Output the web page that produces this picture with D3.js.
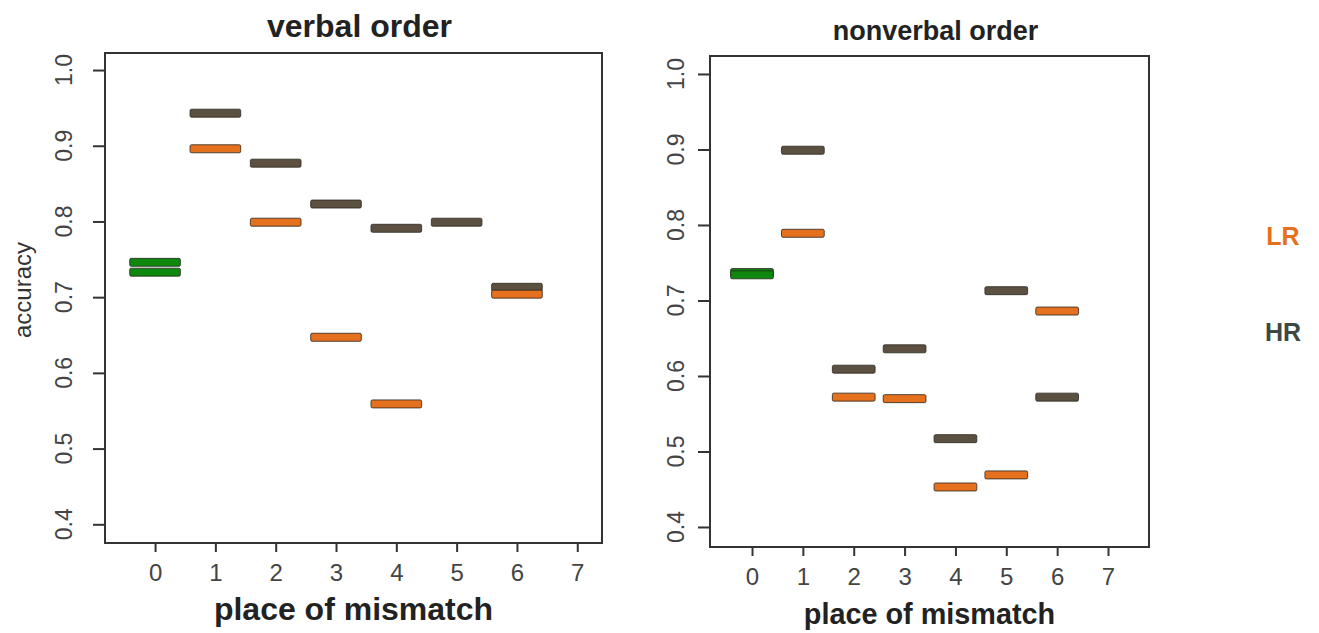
<!DOCTYPE html>
<html>
<head>
<meta charset="utf-8">
<script src="https://cdn.jsdelivr.net/npm/d3@7"></script>
<style>
  body { margin: 0; background: #fff; }
  svg { display: block; font-family: "Liberation Sans", Arial, sans-serif; }
</style>
</head>
<body>
<div id="chart"></div>
<script>
// place of mismatch (x categories)
var places = [0, 1, 2, 3, 4, 5, 6, 7];
var yTicks = [0.4, 0.5, 0.6, 0.7, 0.8, 0.9, 1.0];

// verbal order panel
var verbalBaseline = [0.746, 0.733];            // place 0, green
var verbalLR = [null, 0.896, 0.799, 0.647, 0.559, null, 0.704];
var verbalHR = [null, 0.943, 0.877, 0.823, 0.791, 0.799, 0.713];

// nonverbal order panel
var nonverbalBaseline = [0.737, 0.734];
var nonverbalLR = [null, 0.789, 0.572, 0.570, 0.453, 0.469, 0.686];
var nonverbalHR = [null, 0.899, 0.609, 0.636, 0.517, 0.713, 0.572];

var colLR = '#e5701e', colHR = '#5c5140', colBase = '#0d870d';

var svg = d3.select('#chart').append('svg')
    .attr('width', 1319)
    .attr('height', 633);

var panels = [{
    title: 'verbal order', base: verbalBaseline, lr: verbalLR, hr: verbalHR,
    left: 105, right: 602, top: 53, bottom: 543,
    xd: [-0.83, 7.41], yd: [0.3753, 1.0225],
    fs: 1, titleFs: 32, tickLabX: 64, ylabel: true
}, {
    title: 'nonverbal order', base: nonverbalBaseline, lr: nonverbalLR, hr: nonverbalHR,
    left: 710, right: 1149, top: 56, bottom: 547,
    xd: [-0.826, 7.806], yd: [0.3735, 1.0238],
    fs: 0.9, titleFs: 27, tickLabX: 676, ylabel: false
}];

panels.forEach(function(p) {
    var x = d3.scaleLinear().domain(p.xd).range([p.left, p.right]);
    var y = d3.scaleLinear().domain(p.yd).range([p.bottom, p.top]);
    var g = svg.append('g');
    var halfW = 0.42, barH = 8;

    // axes
    g.append('g')
        .attr('transform', 'translate(0,' + p.bottom + ')')
        .call(d3.axisBottom(x).tickValues(places).tickSize(9).tickFormat(d3.format('d')))
        .call(function(a) {
            a.select('.domain').remove();
            a.selectAll('line').attr('stroke', '#333').attr('stroke-width', 2);
            a.selectAll('text').attr('font-size', '24px').attr('fill', '#444')
                .attr('font-family', '"Liberation Sans", Arial, sans-serif').attr('dy', '1.1em');
        });

    g.append('g')
        .attr('transform', 'translate(' + p.left + ',0)')
        .call(d3.axisLeft(y).tickValues(yTicks).tickSize(12).tickFormat(d3.format('.1f')))
        .call(function(a) {
            a.select('.domain').remove();
            a.selectAll('line').attr('stroke', '#333').attr('stroke-width', 2);
            a.selectAll('text').remove();
        });

    g.selectAll('.ylab').data(yTicks).enter().append('text')
        .attr('transform', function(d) { return 'translate(' + (p.tickLabX + 8) + ',' + y(d) + ') rotate(-90)'; })
        .attr('text-anchor', 'middle')
        .attr('font-size', '23px')
        .attr('fill', '#444')
        .text(function(d) { return d3.format('.1f')(d); });

    // frame
    g.append('rect')
        .attr('x', p.left).attr('y', p.top)
        .attr('width', p.right - p.left).attr('height', p.bottom - p.top)
        .attr('fill', 'none').attr('stroke', '#333').attr('stroke-width', 2);

    function bars(vals, xs, color) {
        var data = vals.map(function(v, i) { return { v: v, p: xs[i] }; })
            .filter(function(d) { return d.v != null; });
        g.selectAll(null).data(data).enter().append('rect')
            .attr('x', function(d) { return x(d.p - halfW); })
            .attr('width', function(d) { return x(d.p + halfW) - x(d.p - halfW); })
            .attr('y', function(d) { return y(d.v) - barH / 2; })
            .attr('height', barH)
            .attr('rx', 1.5)
            .attr('fill', color)
            .attr('stroke', '#2a2620')
            .attr('stroke-width', 0.8);
    }
    bars(p.base, p.base.map(function() { return 0; }), colBase);
    bars(p.hr, places, colHR);
    bars(p.lr, places, colLR);

    var cx = (p.left + p.right) / 2;
    g.append('text')
        .attr('x', cx + 6).attr('y', p.top - 16)
        .attr('text-anchor', 'middle')
        .attr('font-size', p.titleFs + 'px').attr('font-weight', 'bold').attr('fill', '#222')
        .text(p.title);
    g.append('text')
        .attr('x', cx).attr('y', p.bottom + 77)
        .attr('text-anchor', 'middle')
        .attr('font-size', 32 * p.fs + 'px').attr('font-weight', 'bold').attr('fill', '#222')
        .text('place of mismatch');

    if (p.ylabel) {
        g.append('text')
            .attr('transform', 'translate(31,' + 290 + ') rotate(-90)')
            .attr('text-anchor', 'middle')
            .attr('font-size', '24px').attr('fill', '#333')
            .text('accuracy');
    }
});

// legend labels
svg.append('text').attr('x', 1283).attr('y', 245).attr('text-anchor', 'middle')
    .attr('font-size', '25px').attr('font-weight', 'bold').attr('fill', colLR).text('LR');
svg.append('text').attr('x', 1283).attr('y', 341).attr('text-anchor', 'middle')
    .attr('font-size', '25px').attr('font-weight', 'bold').attr('fill', '#3d4845').text('HR');
</script>
</body>
</html>
